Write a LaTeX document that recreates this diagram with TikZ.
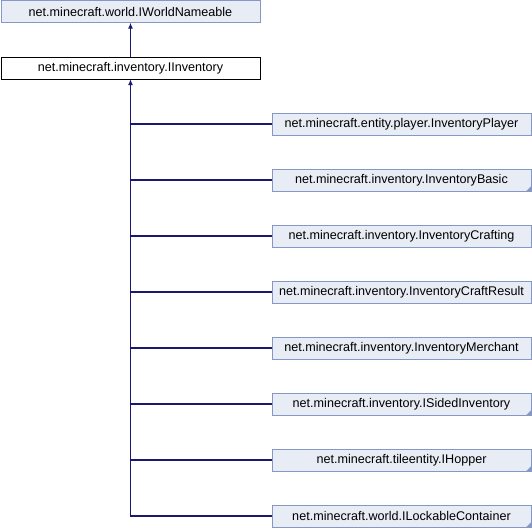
\documentclass[tikz,border=0pt]{standalone}
\usepackage{fontspec}
\setmainfont{Liberation Sans}
\usetikzlibrary{positioning,arrows.meta}

\definecolor{boxfill}{RGB}{232,236,245}
\definecolor{boxline}{RGB}{132,151,199}
\definecolor{linkblue}{RGB}{25,25,112}

\begin{document}
\begin{tikzpicture}[x=1pt,y=-1pt,
  cls/.style={draw=boxline,fill=boxfill,minimum width=259pt,minimum height=22pt,inner sep=0pt,font=\fontsize{12.6}{14}\selectfont},
  cur/.style={cls,draw=black,fill=white},
  link/.style={draw=linkblue,line width=1.1pt},
  corner/.style={fill=boxline}]
\useasboundingbox (0,0) rectangle (532,528);

%Base interfaces
\node[cls] (nameable) at (130.5,11.5) {net.minecraft.world.IWorldNameable};
\node[cur] (inventory) at (130.5,68) {net.minecraft.inventory.IInventory};

%Implementing classes
\node[cls] (player) at (401.5,124) {net.minecraft.entity.player.InventoryPlayer};
\node[cls] (basic) at (401.5,180) {net.minecraft.inventory.InventoryBasic};
\node[cls] (crafting) at (401.5,236) {net.minecraft.inventory.InventoryCrafting};
\node[cls] (craftresult) at (401.5,292) {net.minecraft.inventory.InventoryCraftResult};
\node[cls] (merchant) at (401.5,348) {net.minecraft.inventory.InventoryMerchant};
\node[cls] (sided) at (401.5,404) {net.minecraft.inventory.ISidedInventory};
\node[cls] (hopper) at (401.5,460) {net.minecraft.tileentity.IHopper};
\node[cls] (lockable) at (401.5,516) {net.minecraft.world.ILockableContainer};

%Corner marks
\fill[corner] (basic.south east) -- ++(-5,0) -- ++(5,-5) -- cycle;
\fill[corner] (sided.south east) -- ++(-5,0) -- ++(5,-5) -- cycle;
\fill[corner] (hopper.south east) -- ++(-5,0) -- ++(5,-5) -- cycle;
\fill[corner] (lockable.south east) -- ++(-5,0) -- ++(5,-5) -- cycle;

%Inheritance arrows
\draw[link,-{Latex[length=6pt,width=5pt]}] (inventory) -- (nameable);
\draw[link,{Latex[length=6pt,width=5pt]}-] (inventory.south) -- (inventory.south |- lockable.west) -- (lockable.west);
\draw[link] (inventory.south |- player.west) -- (player.west);
\draw[link] (inventory.south |- basic.west) -- (basic.west);
\draw[link] (inventory.south |- crafting.west) -- (crafting.west);
\draw[link] (inventory.south |- craftresult.west) -- (craftresult.west);
\draw[link] (inventory.south |- merchant.west) -- (merchant.west);
\draw[link] (inventory.south |- sided.west) -- (sided.west);
\draw[link] (inventory.south |- hopper.west) -- (hopper.west);
\end{tikzpicture}
\end{document}
